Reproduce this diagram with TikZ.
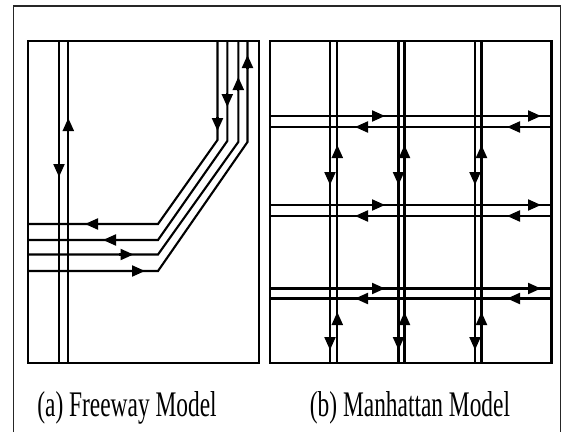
\documentclass[tikz,border=0pt]{standalone}
\usepackage{fontspec}
\setmainfont{Liberation Serif}
\usetikzlibrary{arrows.meta}

\begin{document}
\begin{tikzpicture}[
  x=1pt, y=-1pt,
  road/.style={line width=2.1pt},
  frame/.style={line width=1.6pt, black!85},
  tipto/.style={-{Triangle[length=13pt,width=11pt]}, line width=2.1pt},
  captext/.style={font=\fontsize{36}{40}\selectfont, anchor=base, inner sep=0pt}
]
\useasboundingbox (0,0) rectangle (563,432);
% ---- outer frame ----
\draw[frame] (13.5,432) -- (13.5,6) -- (560.5,6) -- (560.5,432);
% ---- (a) freeway ----
\draw[road] (28,41) rectangle (259,363);
\foreach \x in {59,68.3}{
  \draw[road] (\x,41) -- (\x,363);
}
\draw[tipto] (59,163) -- (59,177);
\draw[tipto] (68.3,132) -- (68.3,118);
% four lanes: top x, bend, horizontal y
\foreach \x/\yb/\y in {217.5/140/224, 227.3/141/240, 238.3/142/254.5, 247.5/142/271}{
  \draw[road] (\x,41) -- (\x,\yb) -- (158,\y) -- (28,\y);
}
\draw[tipto] (217.5,117) -- (217.5,131);
\draw[tipto] (227.3,93) -- (227.3,107);
\draw[tipto] (238.3,91) -- (238.3,77);
\draw[tipto] (247.5,69) -- (247.5,55);
\draw[tipto] (99,224) -- (85,224);
\draw[tipto] (117,240) -- (103,240);
\draw[tipto] (119,254.5) -- (133.5,254.5);
\draw[tipto] (131,271) -- (145,271);
% ---- (b) manhattan ----
\draw[road] (270,41) rectangle (551.5,363);
\foreach \xa/\xb in {330/337.3, 398.5/404.5, 475/481.5}{
  \draw[road] (\xa,41) -- (\xa,363);
  \draw[road] (\xb,41) -- (\xb,363);
  \foreach \t in {185,350}{
    \draw[tipto] (\xa,\t-14) -- (\xa,\t);
  }
  \foreach \t in {145,312}{
    \draw[tipto] (\xb,\t+14) -- (\xb,\t);
  }
}
\foreach \ya/\yb in {116/127, 205/216, 288.5/298.5}{
  \draw[road] (270,\ya) -- (551.5,\ya);
  \draw[road] (270,\yb) -- (551.5,\yb);
  \foreach \t in {385,541}{
    \draw[tipto] (\t-14,\ya) -- (\t,\ya);
  }
  \foreach \t in {355,507}{
    \draw[tipto] (\t+14,\yb) -- (\t,\yb);
  }
}
% ---- captions ----
\node[captext] (capa) at (127,416) {\scalebox{0.65}[1]{(a) Freeway Model}};
\node[captext] (capb) at (410,416) {\scalebox{0.65}[1]{(b) Manhattan Model}};
\end{tikzpicture}
\end{document}
